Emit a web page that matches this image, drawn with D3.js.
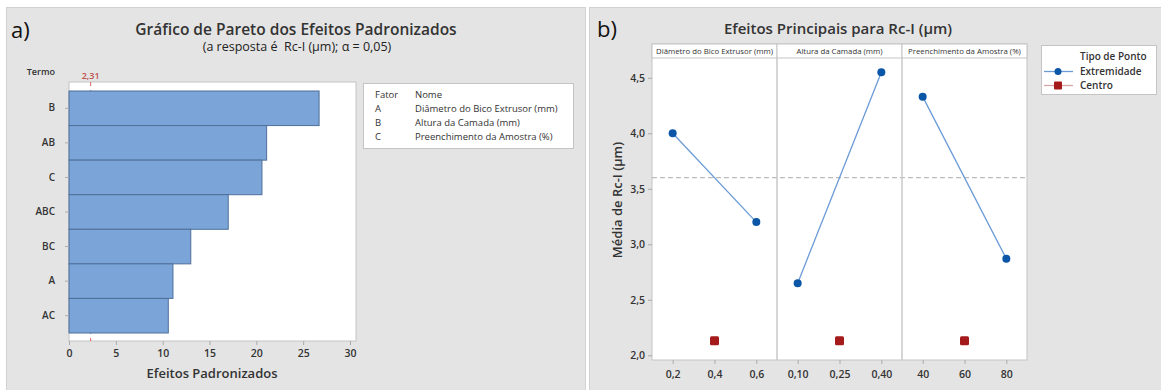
<!DOCTYPE html>
<html>
<head>
<meta charset="utf-8">
<script src="https://cdn.jsdelivr.net/npm/d3@7"></script>
<style>
  html, body { margin: 0; padding: 0; background: #ffffff; }
  svg { display: block; font-family: "Open Sans", "Noto Sans", sans-serif; }
</style>
</head>
<body>
<svg id="chart" width="1161" height="390"></svg>
<script>
// Pareto chart of standardized effects
const paretoTerms = ["B", "AB", "C", "ABC", "BC", "A", "AC"];
const paretoEffects = [26.7, 21.1, 20.6, 17.0, 13.0, 11.1, 10.6];
const criticalValue = 2.31;
const paretoTicks = [0, 5, 10, 15, 20, 25, 30];
const factorCodes = ["A", "B", "C"];
const factorNames = ["Diâmetro do Bico Extrusor (mm)", "Altura da Camada (mm)", "Preenchimento da Amostra (%)"];

// Main effects plot
const cornerLevels = [[0.2, 0.6], [0.10, 0.40], [40, 80]];
const cornerMeans = [[4.00, 3.20], [2.65, 4.55], [4.33, 2.87]];
const centerLevels = [0.4, 0.25, 60];
const centerMeans = [2.13, 2.13, 2.13];
const levelTicks = [[0.2, 0.4, 0.6], [0.10, 0.25, 0.40], [40, 60, 80]];
const levelTickLabels = [["0,2", "0,4", "0,6"], ["0,10", "0,25", "0,40"], ["40", "60", "80"]];
const meanTicks = [2.0, 2.5, 3.0, 3.5, 4.0, 4.5];
const meanTickLabels = ["2,0", "2,5", "3,0", "3,5", "4,0", "4,5"];
const overallMean = 3.6;

const svg = d3.select("#chart");
const txt = "#333333";

// Panel backgrounds
svg.append("rect").attr("x", 6.5).attr("y", 7.5).attr("width", 579).attr("height", 390)
  .attr("fill", "#e4e4e4").attr("stroke", "#d2d2d2");
svg.append("rect").attr("x", 589.5).attr("y", 7.5).attr("width", 580).attr("height", 390)
  .attr("fill", "#e4e4e4").attr("stroke", "#d2d2d2");

// ---------- a) Pareto ----------
const A = { left: 69, right: 356, top: 82, bottom: 341 };
svg.append("text").attr("x", 11).attr("y", 38).attr("font-size", 22).attr("fill", "#111").text("a)");
svg.append("text").attr("x", 296).attr("y", 35).attr("text-anchor", "middle")
  .attr("font-size", 15.5).attr("font-weight", 600).attr("fill", "#333").text("Gráfico de Pareto dos Efeitos Padronizados");
svg.append("text").attr("x", 297).attr("y", 51).attr("text-anchor", "middle")
  .attr("font-size", 12.5).attr("font-weight", 400).attr("fill", "#222").attr("xml:space", "preserve")
  .text("(a resposta é  Rc-I (µm); α = 0,05)");

const xA = d3.scaleLinear().domain([0, 30]).range([A.left, 350]);
const yA = d3.scaleBand().domain(paretoTerms).range([91, 333]).padding(0);

svg.append("rect").attr("x", A.left).attr("y", A.top).attr("width", A.right - A.left).attr("height", A.bottom - A.top)
  .attr("fill", "#ffffff").attr("stroke", "#c4c4c4");

// critical value reference line
svg.append("line").attr("x1", xA(criticalValue)).attr("x2", xA(criticalValue))
  .attr("y1", A.top).attr("y2", A.bottom).attr("stroke", "#e06060").attr("stroke-width", 1)
  .attr("stroke-dasharray", "4,4");
svg.append("text").attr("x", xA(criticalValue)).attr("y", 79).attr("text-anchor", "middle")
  .attr("font-size", 9).attr("font-weight", 600).attr("fill", "#c0504d").text("2,31");

svg.append("g").selectAll("rect").data(paretoTerms).join("rect")
  .attr("x", xA(0)).attr("y", d => yA(d))
  .attr("width", (d, i) => xA(paretoEffects[i]) - xA(0)).attr("height", yA.bandwidth())
  .attr("fill", "#7ba5d9").attr("stroke", "#4f6f99").attr("stroke-width", 1);

const axA = svg.append("g").attr("transform", `translate(0,${A.bottom})`)
  .call(d3.axisBottom(xA).tickValues(paretoTicks).tickSize(4).tickSizeOuter(0).tickFormat(d3.format("d")));
axA.select(".domain").remove();
axA.selectAll("line").attr("stroke", "#aaaaaa");
axA.selectAll("text").attr("font-size", 10.5).attr("font-weight", 600).attr("fill", txt)
  .attr("font-family", "Open Sans, sans-serif").attr("dy", "0.9em");

const ayA = svg.append("g").attr("transform", `translate(${A.left},0)`)
  .call(d3.axisLeft(yA).tickSize(4).tickSizeOuter(0));
ayA.select(".domain").remove();
ayA.selectAll("line").attr("stroke", "#aaaaaa");
ayA.selectAll("text").attr("font-size", 10).attr("font-weight", 600).attr("fill", txt)
  .attr("font-family", "Open Sans, sans-serif").attr("x", -14);

svg.append("text").attr("x", 55).attr("y", 75).attr("text-anchor", "end")
  .attr("font-size", 9).attr("font-weight", 600).attr("fill", txt).text("Termo");
svg.append("text").attr("x", 212).attr("y", 378).attr("text-anchor", "middle")
  .attr("font-size", 13).attr("font-weight", 600).attr("fill", txt).text("Efeitos Padronizados");

// factor legend
svg.append("rect").attr("x", 363.5).attr("y", 83.5).attr("width", 210).attr("height", 65)
  .attr("fill", "#ffffff").attr("stroke", "#c4c4c4");
const legRows = [["Fator", "Nome"]].concat(factorCodes.map((c, i) => [c, factorNames[i]]));
legRows.forEach((r, i) => {
  svg.append("text").attr("x", 375).attr("y", 98 + i * 14).attr("font-size", 9.5).attr("fill", txt).text(r[0]);
  svg.append("text").attr("x", 415).attr("y", 98 + i * 14).attr("font-size", 9.5).attr("fill", txt).text(r[1]);
});

// ---------- b) Main effects ----------
svg.append("text").attr("x", 597).attr("y", 37).attr("font-size", 22).attr("fill", "#111").text("b)");
svg.append("text").attr("x", 838).attr("y", 34).attr("text-anchor", "middle")
  .attr("font-size", 15).attr("font-weight", 600).attr("fill", "#333").text("Efeitos Principais para Rc-I (µm)");

const B = { left: 652, panelW: 125, headTop: 44, top: 58, bottom: 360 };
const yB = d3.scaleLinear().domain([2.0, 4.5]).range([355.3, 77.8]);

svg.append("rect").attr("x", B.left).attr("y", B.headTop).attr("width", B.panelW * 3).attr("height", B.bottom - B.headTop)
  .attr("fill", "#ffffff").attr("stroke", "#c4c4c4");

// overall mean
svg.append("line").attr("x1", B.left).attr("x2", B.left + B.panelW * 3)
  .attr("y1", yB(overallMean)).attr("y2", yB(overallMean))
  .attr("stroke", "#bbbbbb").attr("stroke-width", 1.2).attr("stroke-dasharray", "5,3");

factorNames.forEach((name, k) => {
  const x0 = B.left + k * B.panelW;
  const lv = cornerLevels[k];
  const span = lv[1] - lv[0];
  const xB = d3.scaleLinear().domain([lv[0] - span * 0.247, lv[1] + span * 0.247]).range([x0, x0 + B.panelW]);

  // strip header
  svg.append("rect").attr("x", x0).attr("y", B.headTop).attr("width", B.panelW).attr("height", B.top - B.headTop)
    .attr("fill", "#ffffff").attr("stroke", "#c4c4c4");
  svg.append("text").attr("x", x0 + B.panelW / 2).attr("y", 54).attr("text-anchor", "middle")
    .attr("font-size", 7.8).attr("fill", txt).text(name);
  if (k > 0) {
    svg.append("line").attr("x1", x0).attr("x2", x0).attr("y1", B.top).attr("y2", B.bottom)
      .attr("stroke", "#c8c8c8").attr("stroke-width", 1.5);
  }

  // corner-point line and markers
  const pts = lv.map((l, i) => [l, cornerMeans[k][i]]);
  svg.append("path").datum(pts)
    .attr("d", d3.line().x(d => xB(d[0])).y(d => yB(d[1])))
    .attr("fill", "none").attr("stroke", "#6b9bd6").attr("stroke-width", 1.3);
  svg.append("g").selectAll("circle").data(pts).join("circle")
    .attr("cx", d => xB(d[0])).attr("cy", d => yB(d[1])).attr("r", 4)
    .attr("fill", "#0b56a6");

  // center point
  svg.append("rect").attr("x", xB(centerLevels[k]) - 4.5).attr("y", yB(centerMeans[k]) - 4.5)
    .attr("width", 9).attr("height", 9).attr("rx", 1.5).attr("fill", "#a51a1a");

  // x axis
  const ax = svg.append("g").attr("transform", `translate(0,${B.bottom})`)
    .call(d3.axisBottom(xB).tickValues(levelTicks[k]).tickSize(4).tickSizeOuter(0)
      .tickFormat((d, i) => levelTickLabels[k][i]));
  ax.select(".domain").remove();
  ax.selectAll("line").attr("stroke", "#aaaaaa");
  ax.selectAll("text").attr("font-size", 10.5).attr("font-weight", 600).attr("fill", txt)
    .attr("font-family", "Open Sans, sans-serif").attr("dy", "1.05em");
});

const ayB = svg.append("g").attr("transform", `translate(${B.left},0)`)
  .call(d3.axisLeft(yB).tickValues(meanTicks).tickSize(4).tickSizeOuter(0)
    .tickFormat((d, i) => meanTickLabels[i]));
ayB.select(".domain").remove();
ayB.selectAll("line").attr("stroke", "#aaaaaa");
ayB.selectAll("text").attr("font-size", 10.5).attr("font-weight", 600).attr("fill", txt)
  .attr("font-family", "Open Sans, sans-serif");

svg.append("text").attr("transform", "translate(622,200) rotate(-90)").attr("text-anchor", "middle")
  .attr("font-size", 13).attr("font-weight", 600).attr("fill", txt).text("Média de Rc-I (µm)");

// point-type legend
svg.append("rect").attr("x", 1041.5).attr("y", 45.5).attr("width", 115).attr("height", 49)
  .attr("fill", "#ffffff").attr("stroke", "#c4c4c4");
svg.append("text").attr("x", 1080).attr("y", 60).attr("font-size", 10).attr("font-weight", 600)
  .attr("fill", txt).text("Tipo de Ponto");
svg.append("line").attr("x1", 1044).attr("x2", 1073).attr("y1", 71.5).attr("y2", 71.5)
  .attr("stroke", "#6b9bd6").attr("stroke-width", 1.3);
svg.append("circle").attr("cx", 1058).attr("cy", 71.5).attr("r", 3.5).attr("fill", "#0b56a6");
svg.append("text").attr("x", 1080).attr("y", 75).attr("font-size", 10).attr("font-weight", 600)
  .attr("fill", txt).text("Extremidade");
svg.append("line").attr("x1", 1044).attr("x2", 1073).attr("y1", 85.5).attr("y2", 85.5)
  .attr("stroke", "#d8a5a5").attr("stroke-width", 1.3);
svg.append("rect").attr("x", 1054).attr("y", 81.5).attr("width", 8).attr("height", 8)
  .attr("rx", 1).attr("fill", "#a51a1a");
svg.append("text").attr("x", 1080).attr("y", 89).attr("font-size", 10).attr("font-weight", 600)
  .attr("fill", txt).text("Centro");
</script>
</body>
</html>
